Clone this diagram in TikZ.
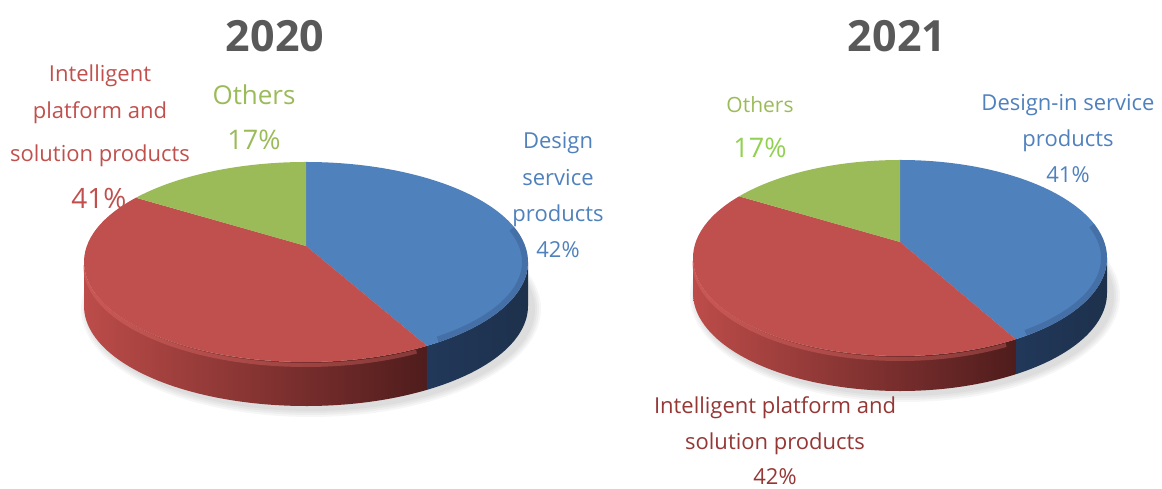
\documentclass[tikz,border=0pt]{standalone}
\usepackage{fontspec}
\setmainfont{Open Sans}
\definecolor{pieblue}{HTML}{4F81BD}
\definecolor{piered}{HTML}{C0504D}
\definecolor{piegreen}{HTML}{9BBB59}
\definecolor{redsideA}{HTML}{BC4C49}
\definecolor{redsideB}{HTML}{94403D}
\definecolor{redsideC}{HTML}{4F1C1C}
\definecolor{redhi}{HTML}{E8706C}
\definecolor{bluesideA}{HTML}{22385A}
\definecolor{bluesideB}{HTML}{1D314C}
\definecolor{titlegray}{HTML}{595959}
\definecolor{darkred}{HTML}{953735}
\definecolor{lightgreen}{HTML}{92D050}
\tikzset{
  yeartitle/.style = {inner sep = 0pt, anchor = base, text = titlegray, font = \fontsize{43}{43}\selectfont\bfseries},
  slicelbl/.style = {inner sep = 0pt, anchor = base, align = center, font = \fontsize{22}{36.5}\selectfont},
  bigpct/.style = {inner sep = 0pt, anchor = base, font = \fontsize{27}{27}\selectfont}
}
\begin{document}
\begin{tikzpicture}[x = 1pt, y = 1pt]
\useasboundingbox (0,0) rectangle (1162,489);
\foreach \cx/\cy/\rx/\ry/\dz/\ga/\rb in {306/227/222/100/44/140/303, 900/231/207/98/35/141/304} {
  \foreach \s in {1,...,4} \fill[black, opacity = 0.035] (\cx+5,\cy-\dz-3) ellipse [x radius = \rx+2*\s, y radius = \ry+2*\s];
  \path[left color = redsideA, middle color = redsideB, right color = redsideC] ({\cx-\rx},\cy) arc [start angle = 180, end angle = \rb, x radius = \rx, y radius = \ry] -- ++(0,-\dz) arc [start angle = \rb, end angle = 180, x radius = \rx, y radius = \ry] -- cycle;
  \path[left color = bluesideA, right color = bluesideB] ({\cx+\rx*cos(\rb)},{\cy+\ry*sin(\rb)}) arc [start angle = \rb, end angle = 360, x radius = \rx, y radius = \ry] -- ++(0,-\dz) arc [start angle = 360, end angle = \rb, x radius = \rx, y radius = \ry] -- cycle;
  \draw[redhi, line width = 4pt, opacity = 0.35] ({\cx-\rx+1},\cy-3) arc [start angle = 180, end angle = \rb-3, x radius = \rx-1, y radius = \ry];
  \fill[pieblue] (\cx,\cy+16) -- ({\cx+\rx*cos(\rb)},{\cy+\ry*sin(\rb)}) arc [start angle = \rb, end angle = 450, x radius = \rx, y radius = \ry] -- cycle;
  \draw[bluesideA, line width = 6pt, opacity = 0.22] ({\cx+(\rx-3)*cos(\rb+4)},{\cy+(\ry-3)*sin(\rb+4)}) arc [start angle = \rb+4, end angle = 380, x radius = \rx-3, y radius = \ry-3];
  \fill[piered] (\cx,\cy+16) -- ({\cx+\rx*cos(\ga)},{\cy+\ry*sin(\ga)}) arc [start angle = \ga, end angle = \rb, x radius = \rx, y radius = \ry] -- cycle;
  \fill[piegreen] (\cx,\cy+16) -- (\cx,\cy+\ry) arc [start angle = 90, end angle = \ga, x radius = \rx, y radius = \ry] -- cycle;
}
\node[yeartitle] (year1) at (275,437) {2020};
\node[yeartitle] (year2) at (897,437) {2021};
\node[slicelbl, text = piered] (name1r) at (100,327) {Intelligent\\platform and\\[7pt]solution products};
\node[bigpct, text = piered, font = \fontsize{28}{28}\selectfont] (pct1r) at (99,280) {41\%};
\node[slicelbl, text = piegreen, font = \fontsize{26}{26}\selectfont] (name1g) at (254,384) {Others};
\node[bigpct, text = piegreen] (pct1g) at (254,339) {17\%};
\node[slicelbl, text = pieblue] (name1b) at (558,267) {Design\\service\\products};
\node[slicelbl, text = pieblue] (pct1b) at (558,231) {42\%};
\node[slicelbl, text = piegreen, font = \fontsize{21}{21}\selectfont] (name2g) at (760,376) {Others};
\node[bigpct, text = lightgreen] (pct2g) at (760,331) {17\%};
\node[slicelbl, text = pieblue] (name2b) at (1068,342) {Design-in service\\products};
\node[slicelbl, text = pieblue] (pct2b) at (1068,306) {41\%};
\node[slicelbl, text = darkred] (name2r) at (775,39) {Intelligent platform and\\solution products};
\node[slicelbl, text = darkred] (pct2r) at (775,4) {42\%};
\end{tikzpicture}
\end{document}
